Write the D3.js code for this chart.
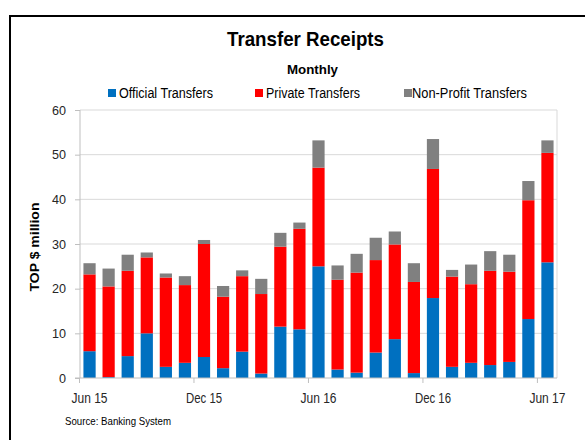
<!DOCTYPE html>
<html><head><meta charset="utf-8">
<script src="https://cdn.jsdelivr.net/npm/d3@7"></script>
<style>
body{margin:0;background:#fff;}
svg{display:block;font-family:"Liberation Sans",Arial,sans-serif;}
</style></head>
<body>
<svg id="c" width="585" height="440"></svg>
<script>
const months = ["Jun 15","Jul 15","Aug 15","Sep 15","Oct 15","Nov 15","Dec 15","Jan 16","Feb 16","Mar 16","Apr 16","May 16","Jun 16","Jul 16","Aug 16","Sep 16","Oct 16","Nov 16","Dec 16","Jan 17","Feb 17","Mar 17","Apr 17","May 17","Jun 17"];
const official = [6.0,0.2,4.9,10.0,2.5,3.4,4.7,2.2,5.9,1.0,11.5,10.9,25.0,1.9,1.2,5.7,8.7,1.1,17.9,2.5,3.4,2.9,3.6,13.2,25.9];
const privateT = [17.2,20.3,19.1,17.0,20.0,17.4,25.3,16.0,16.9,17.8,17.9,22.5,22.1,20.1,22.4,20.7,21.2,20.4,28.9,20.2,17.6,21.1,20.2,26.6,24.5];
const nonProfit = [2.5,4.0,3.6,1.1,0.9,2.0,0.9,2.4,1.3,3.4,3.1,1.4,6.1,3.2,4.2,5.0,2.9,4.2,6.7,1.5,4.4,4.4,3.8,4.3,2.8];
const seriesNames = ["Official Transfers","Private Transfers","Non-Profit Transfers"];
const seriesColors = ["#0070C0","#FF0000","#808080"];
const yTicks = [0,10,20,30,40,50,60];
const xTickLabels = ["Jun 15","Dec 15","Jun 16","Dec 16","Jun 17"];

const svg = d3.select("#c");
// outer frame
svg.append("rect").attr("x",10).attr("y",16).attr("width",620).attr("height",460)
  .attr("fill","none").attr("stroke","#000").attr("stroke-width",2);

const L=80, R=557, T=110, B=378;
const x = d3.scaleBand().domain(months).range([L,R]).paddingInner(0.36).paddingOuter(0.18);
const y = d3.scaleLinear().domain([0,60]).range([B,T]);

// gridlines
svg.append("g").selectAll("line").data(yTicks.filter(d=>d>0)).join("line")
  .attr("x1",L).attr("x2",R).attr("y1",d=>y(d)).attr("y2",d=>y(d))
  .attr("stroke","#d9d9d9").attr("stroke-width",1);
svg.append("line").attr("x1",R).attr("x2",R).attr("y1",T).attr("y2",B).attr("stroke","#d9d9d9");

// stacked bars
const data = months.map((m,i)=>({m, official:official[i], private:privateT[i], nonprofit:nonProfit[i]}));
const stack = d3.stack().keys(["official","private","nonprofit"])(data);
svg.append("g").selectAll("g").data(stack).join("g").attr("fill",(d,i)=>seriesColors[i])
  .selectAll("rect").data(d=>d).join("rect")
  .attr("x",d=>x(d.data.m)).attr("width",x.bandwidth())
  .attr("y",d=>y(d[1])).attr("height",d=>y(d[0])-y(d[1]));

// y axis
const yAxis = svg.append("g").attr("transform",`translate(${L},0)`)
  .call(d3.axisLeft(y).tickValues(yTicks).tickSize(5).tickPadding(9));
yAxis.select(".domain").attr("stroke","#bfbfbf").attr("d",`M-5,${B}H0V${T}`);
yAxis.selectAll(".tick line").attr("stroke","#bfbfbf");
yAxis.selectAll("text").attr("font-size",13.5).attr("fill","#262626").attr("font-family","inherit")
  .attr("textLength",d=>d<10?7:14).attr("lengthAdjust","spacingAndGlyphs");

// x axis
const step = x.step();
const tickIdx = [0,6,12,18,24];
const xg = svg.append("g");
xg.append("line").attr("x1",L).attr("x2",R).attr("y1",B).attr("y2",B).attr("stroke","#bfbfbf");
xg.selectAll("line.t").data(tickIdx).join("line").attr("class","t")
  .attr("x1",i=>x(months[i])-x.paddingInner()*step/2-0.5).attr("x2",i=>x(months[i])-x.paddingInner()*step/2-0.5)
  .attr("y1",B).attr("y2",B+5).attr("stroke","#bfbfbf");
xg.selectAll("text").data(tickIdx).join("text")
  .attr("x",i=>x(months[i])+x.bandwidth()/2).attr("y",B+25)
  .attr("text-anchor","middle").attr("font-size",14).attr("fill","#262626")
  .attr("textLength",36).attr("lengthAdjust","spacingAndGlyphs")
  .text((i,k)=>xTickLabels[k]);

// y title
svg.append("text").attr("transform",`translate(39,${(T+B)/2+3}) rotate(-90)`)
  .attr("text-anchor","middle").attr("font-size",13).attr("font-weight","bold").attr("fill","#000")
  .attr("textLength",89).attr("lengthAdjust","spacingAndGlyphs")
  .text("TOP $ million");

// titles
svg.append("text").attr("x",305.5).attr("y",46).attr("text-anchor","middle")
  .attr("font-size",21).attr("font-weight","bold")
  .attr("textLength",157).attr("lengthAdjust","spacingAndGlyphs").text("Transfer Receipts");
svg.append("text").attr("x",312.5).attr("y",74).attr("text-anchor","middle")
  .attr("font-size",13).attr("font-weight","bold")
  .attr("textLength",51).attr("lengthAdjust","spacingAndGlyphs").text("Monthly");

// legend
const legX = [108,255,404];
const legW = [94,94,115];
const lg = svg.append("g").selectAll("g").data(seriesNames).join("g")
  .attr("transform",(d,i)=>`translate(${legX[i]},93)`);
lg.append("rect").attr("x",0).attr("y",-4).attr("width",8).attr("height",8).attr("fill",(d,i)=>seriesColors[i]);
lg.append("text").attr("x",(d,i)=>i===2?8:11).attr("y",5).attr("font-size",14).attr("fill","#000")
  .attr("textLength",(d,i)=>legW[i]).attr("lengthAdjust","spacingAndGlyphs").text(d=>d);

// source
svg.append("text").attr("x",65).attr("y",425).attr("font-size",11).attr("fill","#000")
  .attr("textLength",106).attr("lengthAdjust","spacingAndGlyphs").text("Source: Banking System");
</script>
</body></html>
